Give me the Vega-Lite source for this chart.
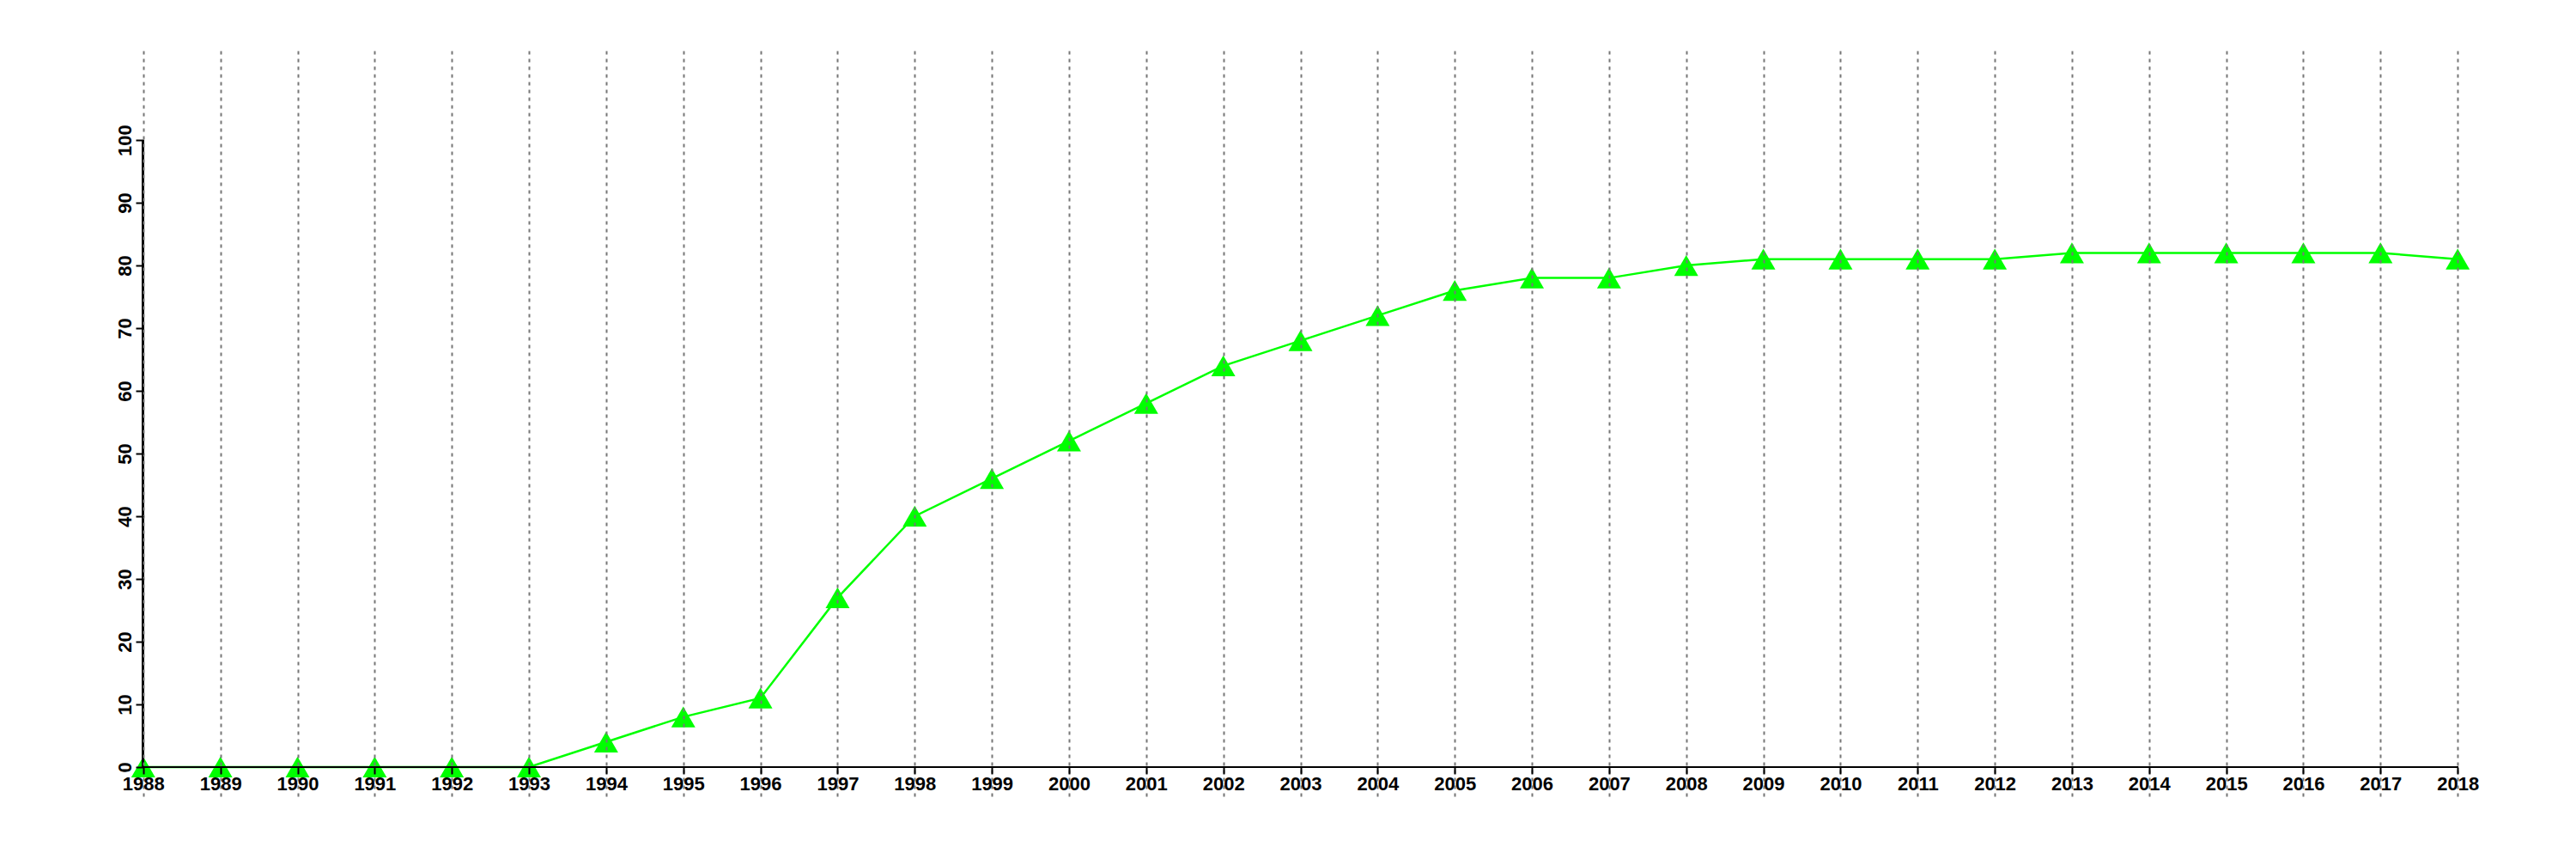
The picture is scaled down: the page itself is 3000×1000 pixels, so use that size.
{
  "$schema": "https://vega.github.io/schema/vega-lite/v6.json",
  "width": 2911,
  "height": 868,
  "autosize": "none",
  "padding": {"left": 59, "top": 59, "right": 30, "bottom": 73},
  "background": "white",
  "config": {"view": {"stroke": null}, "font": "Liberation Sans"},
  "data": {
    "values": [
      {"year": 1988, "value": 0},
      {"year": 1989, "value": 0},
      {"year": 1990, "value": 0},
      {"year": 1991, "value": 0},
      {"year": 1992, "value": 0},
      {"year": 1993, "value": 0},
      {"year": 1994, "value": 4},
      {"year": 1995, "value": 8},
      {"year": 1996, "value": 11},
      {"year": 1997, "value": 27},
      {"year": 1998, "value": 40},
      {"year": 1999, "value": 46},
      {"year": 2000, "value": 52},
      {"year": 2001, "value": 58},
      {"year": 2002, "value": 64},
      {"year": 2003, "value": 68},
      {"year": 2004, "value": 72},
      {"year": 2005, "value": 76},
      {"year": 2006, "value": 78},
      {"year": 2007, "value": 78},
      {"year": 2008, "value": 80},
      {"year": 2009, "value": 81},
      {"year": 2010, "value": 81},
      {"year": 2011, "value": 81},
      {"year": 2012, "value": 81},
      {"year": 2013, "value": 82},
      {"year": 2014, "value": 82},
      {"year": 2015, "value": 82},
      {"year": 2016, "value": 82},
      {"year": 2017, "value": 82},
      {"year": 2018, "value": 81}
    ]
  },
  "layer": [
    {
      "mark": {
        "type": "line",
        "color": "#00ff00",
        "strokeWidth": 2.5,
        "point": {"shape": "triangle-up", "size": 784, "filled": true, "color": "#00ff00", "opacity": 1}
      },
      "encoding": {
        "x": {
          "field": "year",
          "type": "quantitative",
          "scale": {"domain": [1986.8, 2019.2], "nice": false, "zero": false},
          "axis": {
            "values": [1988, 1989, 1990, 1991, 1992, 1993, 1994, 1995, 1996, 1997, 1998, 1999, 2000, 2001, 2002, 2003, 2004, 2005, 2006, 2007, 2008, 2009, 2010, 2011, 2012, 2013, 2014, 2015, 2016, 2017, 2018],
            "format": "d",
            "title": null,
            "grid": true,
            "gridColor": "#777777",
            "gridWidth": 2,
            "gridDash": [4, 5],
            "domain": false,
            "ticks": true,
            "tickColor": "black",
            "tickWidth": 2,
            "tickSize": 8,
            "labelFont": "Liberation Sans",
            "labelFontWeight": "bold",
            "labelFontSize": 22,
            "labelColor": "black",
            "labelPadding": 1,
            "labelOverlap": false,
            "labelFlush": false,
            "offset": -34,
            "zindex": 1
          }
        },
        "y": {
          "field": "value",
          "type": "quantitative",
          "scale": {"domain": [-4.66, 114.25], "nice": false, "zero": false},
          "axis": {
            "values": [0, 10, 20, 30, 40, 50, 60, 70, 80, 90, 100],
            "title": null,
            "grid": false,
            "domain": false,
            "tickColor": "black",
            "tickWidth": 2,
            "tickSize": 9,
            "labelAngle": -90,
            "labelAlign": "center",
            "labelBaseline": "alphabetic",
            "labelPadding": 6,
            "labelFont": "Liberation Sans",
            "labelFontWeight": "bold",
            "labelFontSize": 22,
            "labelColor": "black",
            "labelOverlap": false,
            "labelFlush": false,
            "offset": -108,
            "zindex": 1
          }
        }
      }
    },
    {
      "mark": {"type": "rule", "color": "black", "strokeWidth": 2},
      "encoding": {"x": {"datum": 1988}, "x2": {"datum": 2018}, "y": {"datum": 0}}
    },
    {
      "mark": {"type": "rule", "color": "black", "strokeWidth": 2},
      "encoding": {"x": {"datum": 1988}, "y": {"datum": 0}, "y2": {"datum": 100}}
    }
  ]
}
